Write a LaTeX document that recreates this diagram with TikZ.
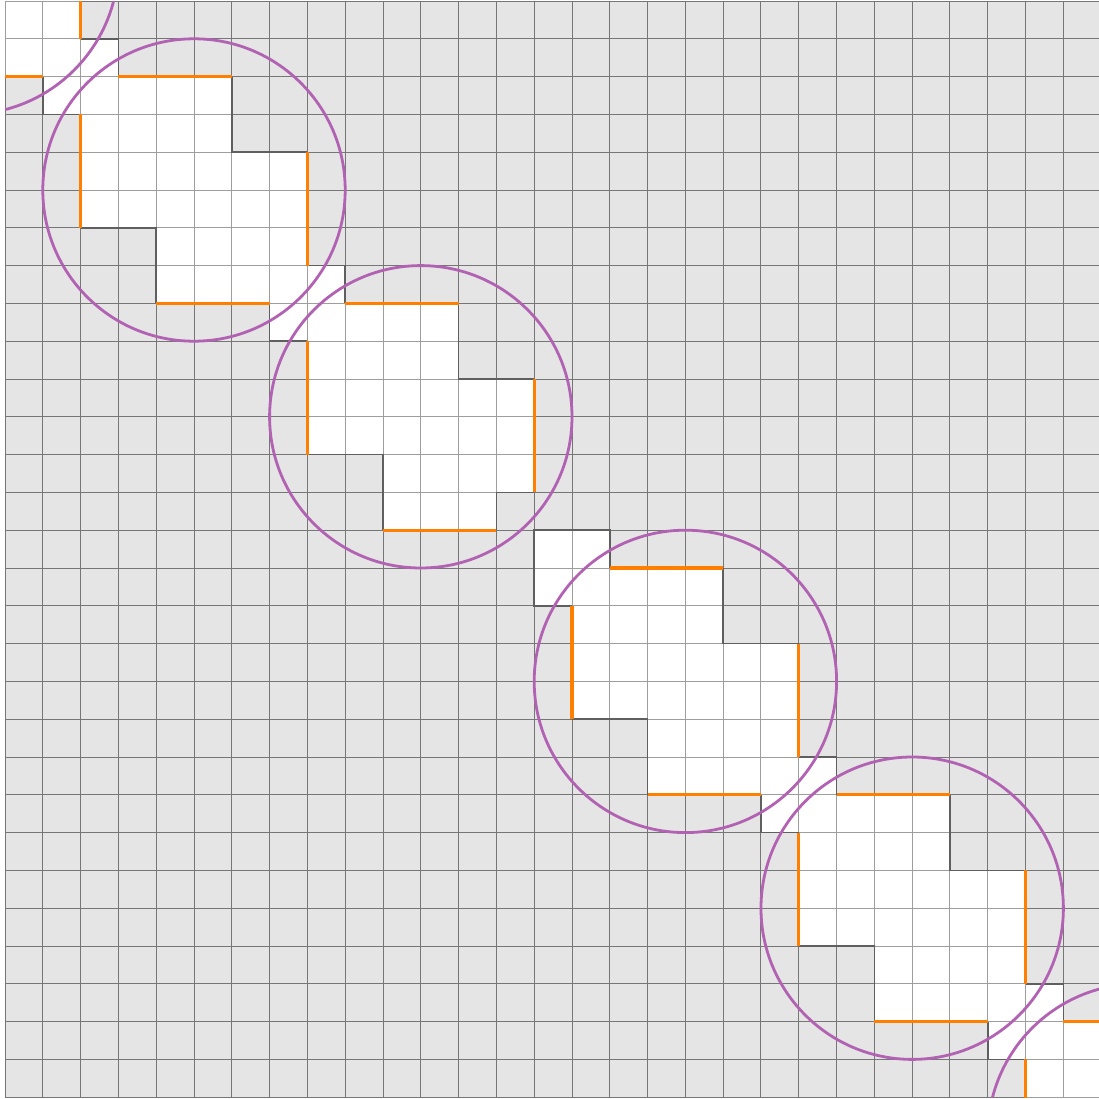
\documentclass[tikz,border=0pt]{standalone}
\definecolor{bggray}{RGB}{229,229,229}
\definecolor{gridd}{RGB}{118,118,118}
\definecolor{gridl}{RGB}{158,158,158}
\definecolor{edgec}{RGB}{95,95,95}
\definecolor{orng}{RGB}{255,128,0}
\definecolor{purp}{RGB}{178,98,178}
\begin{document}
\begin{tikzpicture}[yscale=-1,
  darkgrid/.style={draw=gridd, line width=0.75pt},
  lightgrid/.style={draw=gridl, line width=0.75pt},
  edgeline/.style={draw=edgec, line width=1.1pt},
  orangeline/.style={draw=orng, line width=2.3pt},
  ring/.style={draw=purp, line width=2.1pt}]
\useasboundingbox (-0.1323,-0.0265) rectangle (28.942,29.048);
\clip (-0.1323,-0.0265) rectangle (28.942,29.048);
% background
\fill[bggray] (0,0) rectangle (29,29);
\draw[darkgrid] (0,0) grid (29,29);
\begin{scope}
\clip (0,0) rectangle (29,29);
% white cells
\fill[white] foreach \c in {-1,5,11,18,24,30} {
  (\c-2,\c-3) rectangle (\c+1,\c-2)
  (\c-3,\c-2) rectangle (\c+1,\c-1)
  (\c-3,\c-1) rectangle (\c+3,\c+1)
  (\c-1,\c+1) rectangle (\c+3,\c+2)
  (\c-1,\c+2) rectangle (\c+2,\c+3)
  (\c-4,\c-4) rectangle (\c-2,\c-2)
};
\begin{scope}
\clip foreach \c in {-1,5,11,18,24,30} {
  (\c-2,\c-3) rectangle (\c+1,\c-2)
  (\c-3,\c-2) rectangle (\c+1,\c-1)
  (\c-3,\c-1) rectangle (\c+3,\c+1)
  (\c-1,\c+1) rectangle (\c+3,\c+2)
  (\c-1,\c+2) rectangle (\c+2,\c+3)
  (\c-4,\c-4) rectangle (\c-2,\c-2)
};
\draw[lightgrid] (0,0) grid (29,29);
\end{scope}
% dark outline of white region
\foreach \c in {-1,5,11,18,24,30} {
  \draw[edgeline] (\c+1,\c-3) -- (\c+1,\c-1) -- (\c+3,\c-1);
  \draw[edgeline] (\c-1,\c+3) -- (\c-1,\c+1) -- (\c-3,\c+1);
}
\foreach \c in {-1,5,11,24,30} {
  \draw[edgeline] (\c-3,\c-4) -- (\c-2,\c-4) -- (\c-2,\c-3);
  \draw[edgeline] (\c-3,\c-2) -- (\c-4,\c-2) -- (\c-4,\c-3);
}
\draw[edgeline] (15,16) -- (14,16) -- (14,14) -- (16,14) -- (16,15);
\draw[edgeline] (14,13) -- (13,13) -- (13,14);
% orange sides
\foreach \c in {-1,5,11,18,24,30} {
  \draw[orangeline] (\c-2,\c-3) -- (\c+1,\c-3);
  \draw[orangeline] (\c+3,\c-1) -- (\c+3,\c+2);
  \draw[orangeline] (\c+2,\c+3) -- (\c-1,\c+3);
  \draw[orangeline] (\c-3,\c+1) -- (\c-3,\c-2);
}
% circles
\foreach \c in {-1,5,11,18,24,30} {
  \draw[ring] (\c,\c) circle (4);
}
\end{scope}
\end{tikzpicture}
\end{document}
